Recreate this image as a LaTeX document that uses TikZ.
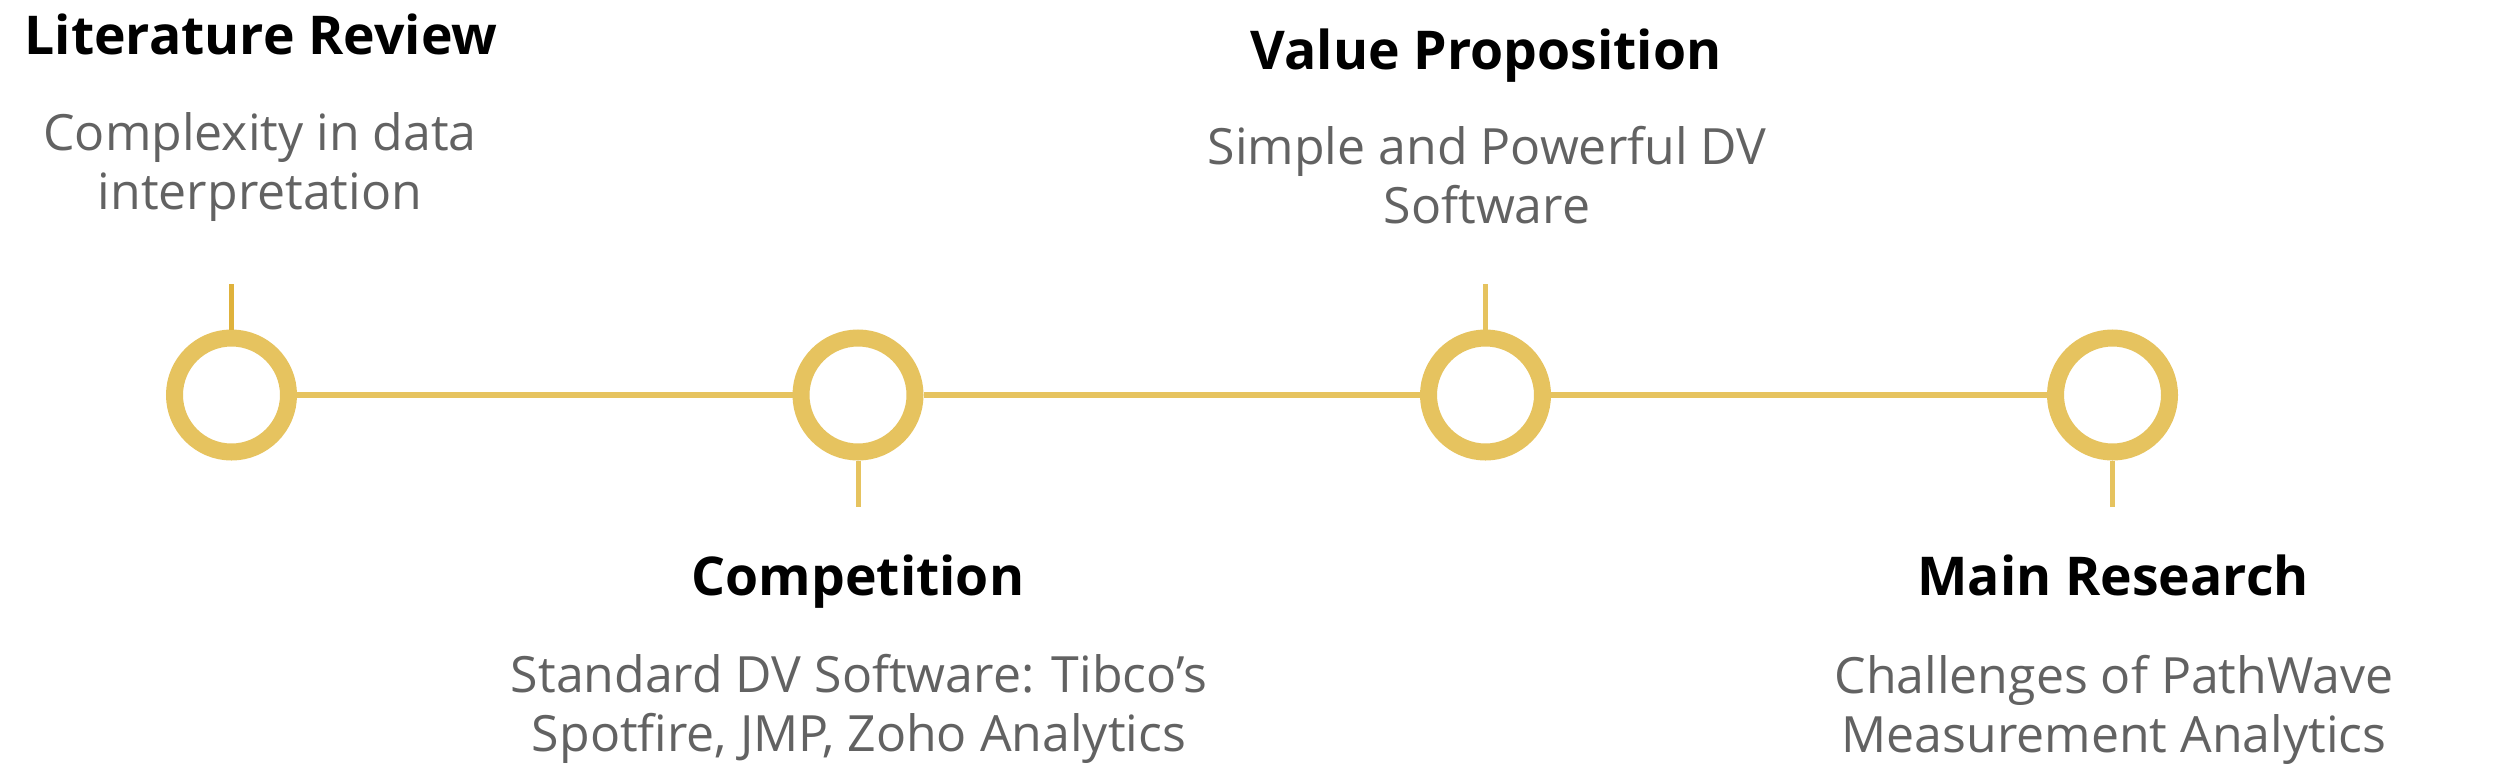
\documentclass[tikz,border=0pt]{standalone}
\usepackage{fontspec}
\setmainfont{Open Sans}
\definecolor{gold}{HTML}{E6C35F}
\definecolor{golddark}{HTML}{DFB23C}
\definecolor{desc}{HTML}{626262}
\begin{document}
\begin{tikzpicture}[x=1pt,y=-1pt,
  ring/.style={circle,draw=gold,line width=17pt,minimum size=114pt,inner sep=0pt,fill=white},
  tl/.style={draw=gold,line width=5.5pt},
  tick/.style={draw=gold,line width=5pt},
  ttl/.style={anchor=base,inner sep=0pt,font=\bfseries\fontsize{53.5}{64}\selectfont,text=black},
  dsc/.style={anchor=base,inner sep=0pt,align=center,font=\fontsize{50}{59}\selectfont,text=desc}]
\useasboundingbox (0,0) rectangle (2500,763);
\node[ring] (c1) at (231.5,395) {};
\node[ring] (c2) at (858,395) {};
\node[ring] (c3) at (1485.5,395) {};
\node[ring] (c4) at (2112.5,395) {};
\draw[tl] (c1) -- (c2);
\draw[tl] (c2) -- (c3);
\draw[tl] (c3) -- (c4);
\coordinate (t1) at (231.5,284);
\coordinate (t2) at (858,507);
\coordinate (t3) at (1485.5,284);
\coordinate (t4) at (2112.5,507);
\draw[tick,draw=golddark] (c1.north) -- (t1);
\draw[tick] (c2.south) -- (t2);
\draw[tick] (c3.north) -- (t3);
\draw[tick] (c4.south) -- (t4);
\node[ttl] (h1) at (261,54) {Literature Review};
\node[dsc] (d1) at (260,209) {Complexity in data\\interpretation};
\node[ttl] (h2) at (858,595) {Competition};
\node[dsc] (d2) at (859,751) {Standard DV Software: Tibco’s\\Spotfire, JMP, Zoho Analytics};
\node[ttl] (h3) at (1486,69) {Value Proposition};
\node[dsc] (d3) at (1487,223) {Simple and Powerful DV\\Software};
\node[ttl] (h4) at (2113,595) {Main Research};
\node[dsc] (d4) at (2114,752) {Challenges of PathWave\\Measurement Analytics};
\end{tikzpicture}
\end{document}
